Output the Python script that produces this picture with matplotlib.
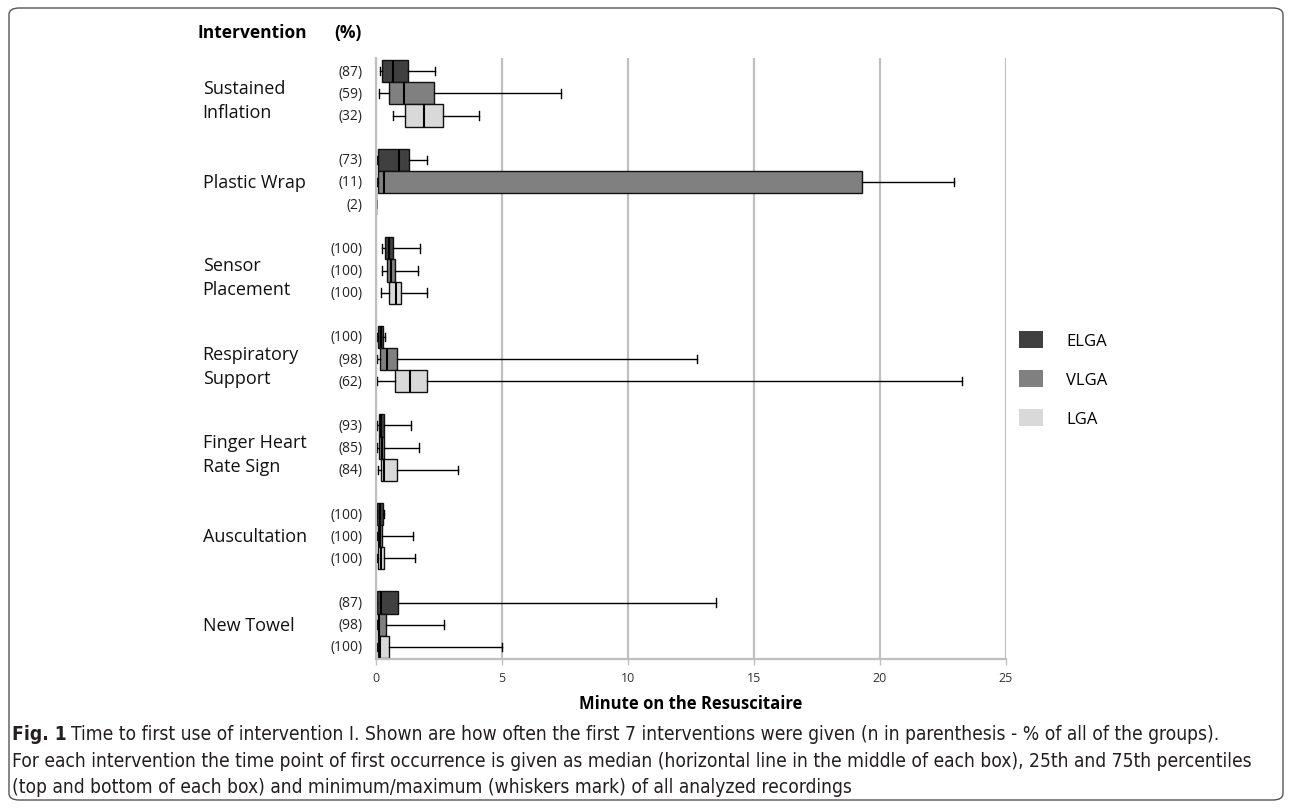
import matplotlib
matplotlib.use('Agg')
import matplotlib.pyplot as plt
from matplotlib.patches import Patch, FancyBboxPatch

interventions = ['Sustained\nInflation', 'Plastic Wrap', 'Sensor\nPlacement', 'Respiratory\nSupport',
                 'Finger Heart\nRate Sign', 'Auscultation', 'New Towel']
groups = ['ELGA', 'VLGA', 'LGA']
colors = ['#404040', '#808080', '#d9d9d9']

pct_elga = [87, 73, 100, 100, 93, 100, 87]
pct_vlga = [59, 11, 100, 98, 85, 100, 98]
pct_lga = [32, 2, 100, 62, 84, 100, 100]

# minutes: min, 25th, median, 75th, max
elga_min = [0.16, 0.03, 0.24, 0.03, 0.05, 0.03, 0.01]
elga_q1 = [0.25, 0.08, 0.36, 0.09, 0.11, 0.05, 0.03]
elga_med = [0.66, 0.91, 0.50, 0.20, 0.21, 0.16, 0.20]
elga_q3 = [1.26, 1.32, 0.67, 0.29, 0.33, 0.28, 0.88]
elga_max = [2.34, 2.02, 1.75, 0.37, 1.38, 0.30, 13.49]

vlga_min = [0.13, 0.04, 0.23, 0.03, 0.05, 0.03, 0.03]
vlga_q1 = [0.53, 0.08, 0.42, 0.17, 0.13, 0.08, 0.09]
vlga_med = [1.12, 0.32, 0.58, 0.42, 0.23, 0.16, 0.12]
vlga_q3 = [2.31, 19.27, 0.77, 0.83, 0.32, 0.25, 0.41]
vlga_max = [7.33, 22.95, 1.68, 12.74, 1.71, 1.48, 2.70]

lga_min = [0.69, 0.0, 0.19, 0.05, 0.08, 0.03, 0.03]
lga_q1 = [1.16, 0.0, 0.52, 0.74, 0.19, 0.07, 0.07]
lga_med = [1.92, 0.0, 0.78, 1.34, 0.32, 0.20, 0.17]
lga_q3 = [2.66, 0.0, 1.00, 2.01, 0.82, 0.30, 0.53]
lga_max = [4.10, 0.0, 2.04, 23.25, 3.24, 1.55, 4.99]

series = [
    (elga_min, elga_q1, elga_med, elga_q3, elga_max, pct_elga),
    (vlga_min, vlga_q1, vlga_med, vlga_q3, vlga_max, pct_vlga),
    (lga_min, lga_q1, lga_med, lga_q3, lga_max, pct_lga),
]

plt.rcParams['font.family'] = ['Open Sans', 'DejaVu Sans']
cap_font = ['DejaVu Sans']

fig = plt.figure(figsize=(12.92, 8.12), dpi=100)
ax = fig.add_axes([376 / 1292, 1 - 660 / 812, 630 / 1292, 601 / 812])

for j, (mn, q1, md, q3, mx, pct) in enumerate(series):
    stats = []
    pos = []
    for i in range(len(interventions)):
        stats.append(dict(whislo=mn[i], q1=q1[i], med=md[i], q3=q3[i], whishi=mx[i], fliers=[]))
        pos.append(i * 4 + j - 1)
    ax.bxp(stats, positions=pos, widths=1.0, vert=False, patch_artist=True, capwidths=0.38,
           boxprops=dict(facecolor=colors[j], edgecolor='#111111', linewidth=1.0),
           medianprops=dict(color='black', linewidth=1.5),
           whiskerprops=dict(color='black', linewidth=1.0),
           capprops=dict(color='black', linewidth=1.0),
           manage_ticks=False)
    for i in range(len(interventions)):
        ax.text(-0.021, i * 4 + j - 1, '(%d)' % pct[i], transform=ax.get_yaxis_transform(),
                ha='right', va='center', fontsize=10, color='#222222')

for i, name in enumerate(interventions):
    ax.text(-0.275, i * 4 + (0.3 if '\n' in name else 0), name, transform=ax.get_yaxis_transform(),
            ha='left', va='center', fontsize=13, color='#111111', linespacing=1.45)

ax.set_ylim(25.55, -1.6)
ax.set_xlim(0, 25)
ax.set_yticks([])
ax.set_xticks([0, 5, 10, 15, 20, 25])
ax.tick_params(axis='x', length=4, width=1, color='#bfbfbf', labelsize=9, labelcolor='#333333', pad=5)
ax.grid(axis='x', color='#c0c0c0', linewidth=1.6)
ax.set_axisbelow(True)
for s in ['top', 'right']:
    ax.spines[s].set_visible(False)
for s in ['left', 'bottom']:
    ax.spines[s].set_color('#bfbfbf')
    ax.spines[s].set_linewidth(1.6)
ax.set_xlabel('Minute on the Resuscitaire', fontsize=12, fontweight='bold', labelpad=7)

fig.text(197 / 1292, 1 - 33 / 812, 'Intervention', fontsize=12.5, fontweight='bold', va='center')
fig.text(334 / 1292, 1 - 33 / 812, '(%)', fontsize=12.5, fontweight='bold', va='center')

handles = [Patch(facecolor=c, edgecolor='none') for c in colors]
fig.legend(handles, groups, loc='center left', bbox_to_anchor=(1004 / 1292, 1 - 380 / 812),
           frameon=False, fontsize=12, handlelength=1.45, handleheight=1.2,
           labelspacing=1.25, handletextpad=1.4)

frame = FancyBboxPatch((9 / 1292, 11 / 812), 1274 / 1292, 792 / 812, transform=fig.transFigure,
                       boxstyle='round,pad=0,rounding_size=0.008', facecolor='none',
                       edgecolor='#555555', linewidth=1.0)
fig.patches.append(frame)

cap1 = 'Time to first use of intervention I. Shown are how often the first 7 interventions were given (n in parenthesis - % of all of the groups).'
cap2 = 'For each intervention the time point of first occurrence is given as median (horizontal line in the middle of each box), 25th and 75th percentiles'
cap3 = '(top and bottom of each box) and minimum/maximum (whiskers mark) of all analyzed recordings'
cap_kw = dict(family=cap_font, fontstretch='condensed', va='center', color='#231f20')
t2 = fig.text(12 / 1292, 1 - 762 / 812, cap2, fontsize=12, **cap_kw)
t3 = fig.text(12 / 1292, 1 - 788 / 812, cap3, fontsize=12, **cap_kw)

# fit caption width to the reference (line 2 spans x=12..1266)
fig.canvas.draw()
size = 12 * (1252 - 12) / t2.get_window_extent().width
t2.set_fontsize(size)
t3.set_fontsize(size)
t0 = fig.text(12 / 1292, 1 - 735 / 812, 'Fig. 1', fontsize=size, fontweight='bold', **cap_kw)
fig.canvas.draw()
x1 = t0.get_window_extent().x1 + 0.3 * size
fig.text(x1 / 1292, 1 - 735 / 812, cap1, fontsize=size, **cap_kw)

fig.savefig('out.png', dpi=100)
